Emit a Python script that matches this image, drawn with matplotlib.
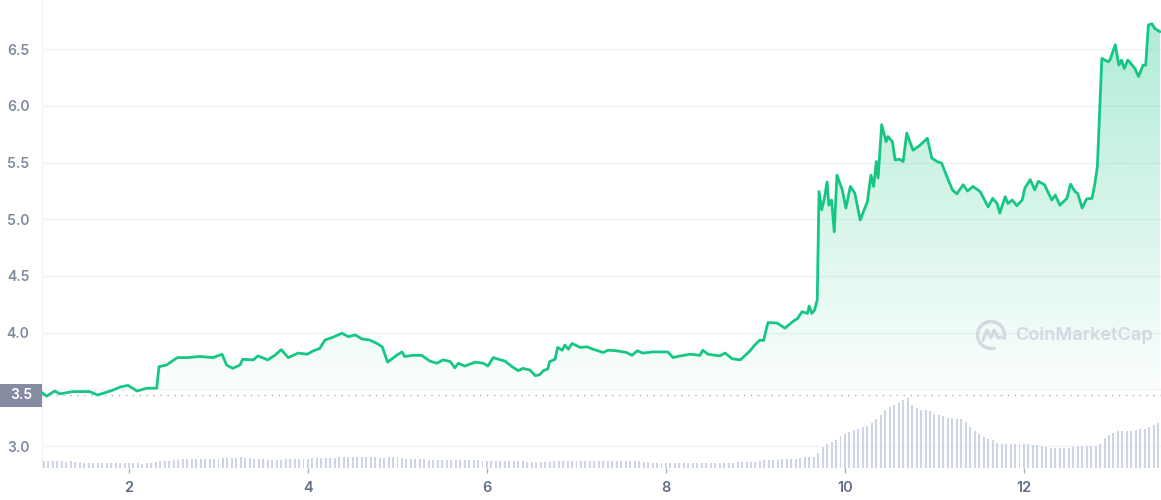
import numpy as np
import matplotlib
matplotlib.use("Agg")
import matplotlib.pyplot as plt
from matplotlib.patches import PathPatch, Rectangle, Arc

# ---------------- data ----------------
price_days = [1.03, 1.08, 1.17, 1.23, 1.37, 1.56, 1.65, 1.81, 1.90, 1.99, 2.09, 2.20, 2.31, 2.335,
              2.42, 2.54, 2.65, 2.79, 2.94, 3.04, 3.09, 3.16, 3.24, 3.27, 3.39, 3.44, 3.55, 3.63,
              3.70, 3.78, 3.89, 3.99, 4.06, 4.13, 4.19, 4.28, 4.38, 4.45, 4.53, 4.60, 4.69, 4.77,
              4.83, 4.89, 4.99, 5.05, 5.08, 5.17, 5.27, 5.36, 5.44, 5.51, 5.59, 5.64, 5.68, 5.75,
              5.87, 5.96, 6.01, 6.07, 6.15, 6.20, 6.28, 6.35, 6.40, 6.48, 6.54, 6.59, 6.63, 6.68,
              6.70, 6.76, 6.79, 6.84, 6.87, 6.91, 6.95, 7.04, 7.12, 7.18, 7.30, 7.35, 7.45, 7.56,
              7.62, 7.68, 7.74, 7.85, 8.02, 8.08, 8.13, 8.27, 8.38, 8.41, 8.47, 8.60, 8.66, 8.74,
              8.83, 8.94, 8.99, 9.05, 9.09, 9.14, 9.24, 9.33, 9.42, 9.47, 9.52, 9.58, 9.60, 9.63,
              9.66, 9.69, 9.71, 9.74, 9.77, 9.80, 9.82, 9.85, 9.88, 9.91, 9.97, 10.01, 10.06, 10.11,
              10.17, 10.25, 10.29, 10.32, 10.35, 10.37, 10.41, 10.46, 10.48, 10.53, 10.56, 10.61,
              10.65, 10.69, 10.76, 10.84, 10.92, 10.97, 11.03, 11.08, 11.14, 11.20, 11.25, 11.32,
              11.37, 11.43, 11.51, 11.60, 11.65, 11.70, 11.73, 11.79, 11.82, 11.87, 11.92, 11.98,
              12.01, 12.07, 12.12, 12.16, 12.23, 12.31, 12.35, 12.40, 12.48, 12.52, 12.57, 12.60,
              12.65, 12.70, 12.76, 12.79, 12.82, 12.87, 12.94, 12.96, 13.02, 13.06, 13.09, 13.12,
              13.16, 13.21, 13.24, 13.28, 13.33, 13.36, 13.39, 13.43, 13.46, 13.52]
price_vals = [3.47, 3.44, 3.485, 3.46, 3.48, 3.48, 3.45, 3.49, 3.52, 3.535, 3.485, 3.51, 3.51, 3.70,
              3.715, 3.78, 3.78, 3.79, 3.78, 3.81, 3.715, 3.685, 3.715, 3.765, 3.76, 3.795, 3.76, 3.80,
              3.85, 3.78, 3.82, 3.81, 3.84, 3.86, 3.935, 3.96, 3.995, 3.965, 3.98, 3.945, 3.935, 3.905,
              3.875, 3.74, 3.80, 3.83, 3.79, 3.80, 3.80, 3.75, 3.73, 3.76, 3.745, 3.69, 3.73, 3.705,
              3.74, 3.73, 3.705, 3.78, 3.76, 3.75, 3.70, 3.665, 3.685, 3.67, 3.62, 3.63, 3.665, 3.68,
              3.745, 3.765, 3.87, 3.845, 3.89, 3.855, 3.905, 3.87, 3.875, 3.855, 3.825, 3.845, 3.84, 3.825,
              3.80, 3.84, 3.82, 3.83, 3.83, 3.78, 3.79, 3.81, 3.80, 3.845, 3.81, 3.795, 3.82, 3.77,
              3.76, 3.84, 3.89, 3.935, 3.93, 4.09, 4.085, 4.04, 4.10, 4.125, 4.185, 4.17, 4.235, 4.17,
              4.20, 4.29, 5.245, 5.085, 5.185, 5.33, 5.125, 5.17, 4.89, 5.39, 5.26, 5.10, 5.29, 5.23,
              4.995, 5.155, 5.39, 5.29, 5.51, 5.365, 5.835, 5.685, 5.73, 5.685, 5.525, 5.53,
              5.51, 5.76, 5.61, 5.655, 5.715, 5.54, 5.51, 5.495, 5.375, 5.26, 5.225, 5.305,
              5.25, 5.29, 5.245, 5.11, 5.185, 5.14, 5.055, 5.20, 5.14, 5.17, 5.12, 5.17,
              5.275, 5.35, 5.26, 5.335, 5.305, 5.17, 5.215, 5.125, 5.185, 5.31, 5.245, 5.23,
              5.10, 5.18, 5.185, 5.305, 5.465, 6.42, 6.39, 6.405, 6.54, 6.36, 6.405, 6.33,
              6.405, 6.36, 6.33, 6.26, 6.36, 6.36, 6.715, 6.725, 6.685, 6.655]

# volume (relative units), one bar every 0.05 day starting at day 1.05
volume_start = 1.05
volume_step = 0.05
volume = [20, 20, 20, 20, 20, 19, 20, 19, 17, 15, 15, 15, 15, 15, 15, 15, 15, 15, 15, 14,
          14, 14, 13, 14, 14, 17, 20, 21, 22, 24, 25, 26, 26, 27, 27, 27, 28, 27, 28, 28,
          29, 30, 31, 31, 32, 31, 31, 28, 27, 27, 24, 24, 23, 24, 26, 27, 27, 27, 28, 28,
          30, 30, 30, 31, 30, 31, 32, 33, 33, 34, 33, 33, 34, 33, 32, 30, 31, 33, 34, 33,
          31, 28, 28, 28, 27, 26, 25, 25, 25, 25, 25, 24, 25, 25, 24, 25, 24, 23, 22, 22,
          22, 22, 22, 22, 21, 22, 22, 21, 19, 19, 19, 19, 19, 19, 20, 21, 22, 22, 22, 22,
          22, 22, 22, 22, 22, 22, 22, 22, 22, 22, 22, 21, 22, 21, 18, 18, 16, 15, 15, 15,
          15, 15, 14, 15, 15, 15, 16, 16, 16, 16, 16, 16, 16, 16, 16, 17, 17, 18, 19, 19,
          20, 23, 24, 24, 25, 27, 27, 27, 28, 30, 33, 33, 34, 45, 63, 72, 78, 86, 96, 103,
          111, 116, 120, 124, 127, 137, 148, 162, 177, 186, 193, 198, 206, 213, 193, 184, 177, 176, 174, 165,
          161, 157, 153, 151, 149, 148, 140, 126, 113, 103, 95, 89, 84, 77, 74, 73, 72, 72, 72, 72,
          72, 71, 69, 67, 64, 62, 62, 62, 62, 62, 63, 66, 68, 68, 68, 68, 72, 90, 101, 108,
          112, 113, 113, 114, 116, 118, 118, 126, 132, 137]

x_ticks = [2, 4, 6, 8, 10, 12]
y_ticks = [3.0, 4.0, 4.5, 5.0, 5.5, 6.0, 6.5]
grid_levels = [3.0, 3.5, 4.0, 4.5, 5.0, 5.5, 6.0, 6.5]
open_price = 3.447
open_label = "3.5"

# ---------------- style ----------------
GREEN = "#16c784"
TXT = "#808a9d"
XTXT = "#616e85"
plt.rcParams["font.family"] = ["Inter", "DejaVu Sans"]

W, H = 1161, 500
fig = plt.figure(figsize=(W / 100, H / 100), dpi=100)
ax = fig.add_axes([42 / W, 32 / H, 1 - 42 / W, 468 / H])

xmin, xmax = 1.028, 13.531
ymin, ymax = 2.806, 6.935
ax.set_xlim(xmin, xmax)
ax.set_ylim(ymin, ymax)

for g in grid_levels:
    ax.axhline(g, color="#eff2f5", lw=1.0, zorder=0)

# volume bars on a twin axis
ax2 = ax.twinx()
vol_days = volume_start + volume_step * np.arange(len(volume))
ax2.bar(vol_days, volume, width=0.022, color="#cdd4e3", zorder=1, linewidth=0)
ax2.set_ylim(0, 1424)
ax2.set_xlim(xmin, xmax)
ax2.axis("off")

# gradient area under the line
base = 3.5
fill = ax.fill_between(price_days, price_vals, base, color="none", lw=0)
path = fill.get_paths()[0]
patch = PathPatch(path, transform=ax.transData, facecolor="none", edgecolor="none")
ax.add_patch(patch)
grad = np.zeros((256, 1, 4))
rgb = matplotlib.colors.to_rgb(GREEN)
grad[..., 0], grad[..., 1], grad[..., 2] = rgb
grad[:, 0, 3] = np.linspace(0.02, 0.36, 256)
im = ax.imshow(grad, extent=[xmin, xmax, base, 6.935], origin="lower",
               aspect="auto", zorder=2, interpolation="bilinear")
im.set_clip_path(patch)

ax.plot(price_days, price_vals, color=GREEN, lw=2.0, zorder=4,
        solid_joinstyle="round", solid_capstyle="round")

# open price dotted line
ax.axhline(open_price, color="#a8afbd", lw=1.0, ls=(0, (1, 4)), zorder=3)

# axes cosmetics
for s in ["top", "right", "bottom"]:
    ax.spines[s].set_visible(False)
ax.spines["left"].set_color("#eff2f5")
ax.set_xticks(x_ticks)
ax.set_xticklabels([str(t) for t in x_ticks])
ax.set_yticks(y_ticks)
ax.set_yticklabels([f"{t:.1f}" for t in y_ticks])
ax.tick_params(axis="y", length=0, pad=9, labelsize=10, labelcolor=TXT)
ax.tick_params(axis="x", length=3.5, width=1, color="#a8afbd", pad=6,
               labelsize=10.5, labelcolor=XTXT)
for lab in ax.get_yticklabels() + ax.get_xticklabels():
    lab.set_fontweight("semibold")

# open price label box
ylab = ax.transData.transform((0, open_price))[1] / fig.dpi
fig.patches.append(Rectangle((0, ylab - 0.115), 0.42, 0.23, transform=fig.dpi_scale_trans,
                             facecolor="#858ca2", edgecolor="none", zorder=5))
fig.text(0.21, ylab, open_label, transform=fig.dpi_scale_trans, ha="center", va="center",
         color="white", fontsize=10, fontweight="semibold", zorder=6)

# watermark
wm = "#d3d8e2"
cx, cy = 9.91, 1.65
fig.patches.append(Arc((cx, cy), 0.27, 0.27, theta1=-20, theta2=290,
                       transform=fig.dpi_scale_trans, color=wm, lw=2.4, zorder=6))
fig.lines.append(matplotlib.lines.Line2D([cx - 0.08, cx - 0.04, cx, cx + 0.03, cx + 0.07, cx + 0.1],
                                         [cy - 0.05, cy + 0.05, cy - 0.03, cy + 0.05, cy - 0.03, cy - 0.02],
                                         transform=fig.dpi_scale_trans, color=wm, lw=2.2,
                                         solid_joinstyle="round", zorder=6))
fig.text(10.15, cy, "CoinMarketCap", transform=fig.dpi_scale_trans, ha="left", va="center",
         color=wm, fontsize=13.1, fontweight="semibold", zorder=6)

fig.savefig("out.png", dpi=100)
